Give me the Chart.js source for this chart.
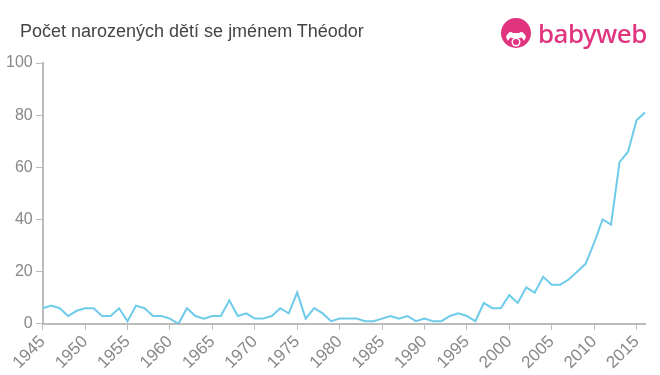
<!DOCTYPE html>
<html><head><meta charset="utf-8">
<script src="https://cdn.jsdelivr.net/npm/chart.js@4"></script>
<style>
html,body{margin:0;padding:0;background:#fff;}
#wrap{position:relative;width:660px;height:375px;}
#title{position:absolute;left:20px;top:21px;font:18px "Liberation Sans",Arial,sans-serif;color:#444;white-space:nowrap;}
#logo{position:absolute;left:500px;top:15px;height:36px;display:flex;align-items:center;}
#logo .txt{font:500 26px "Noto Sans","DejaVu Sans",sans-serif;color:#e0347f;margin-left:6px;letter-spacing:-0.5px;}
canvas{position:absolute;left:0;top:0;}
</style></head>
<body><div id="wrap">
<canvas id="c" width="660" height="375"></canvas>
<div id="title">Počet narozených dětí se jménem Théodor</div>
<div id="logo">
<svg width="32" height="32" viewBox="0 0 32 32">
<circle cx="16" cy="16" r="15" fill="#e0347f"/>
<path d="M6 20 Q9 13 13 16 L19 16 Q23 13 26 20 L24 24 Q22 19 20 21 L12 21 Q10 19 8 24 Z" fill="#fff"/>
<circle cx="16" cy="25" r="4.5" fill="#fff"/>
<circle cx="16" cy="25" r="3" fill="#e0347f"/>
</svg>
<span class="txt">babyweb</span>
</div>
</div>
<script>
const years = [];
for (let y = 1945; y <= 2016; y++) years.push(y);
const counts = [
 6,7,6,3,5,6,6,3,3,6, 1,7,6,3,3,2,0,6,3,2, 3,3,9,3,4,2,2,3,6,4,
 12,2,6,4,1,2,2,2,1,1, 2,3,2,3,1,2,1,1,3,4, 3,1,8,6,6,11,8,14,12,18,
 15,15,17,20,23,31,40,38,62,66, 78,81
];
const yTicks = [0,20,40,60,80,100];

new Chart(document.getElementById('c'), {
  type: 'line',
  data: { labels: years, datasets: [{
    data: counts, borderColor: '#6ecbea', borderWidth: 2,
    pointRadius: 0, fill: false, tension: 0
  }]},
  options: {
    responsive: false, animation: false,
    layout: { padding: { left: 3, right: 15, top: 63, bottom: 0 } },
    plugins: { legend: { display: false }, tooltip: { enabled: false } },
    scales: {
      x: {
        offset: false,
        grid: { drawOnChartArea: false, color: '#bbb', tickLength: 6, lineWidth: 1 },
        border: { color: '#bbb', width: 2 },
        ticks: {
          autoSkip: false, maxRotation: 45, minRotation: 45,
          color: '#888', font: { size: 17, family: '"Liberation Sans", Arial, sans-serif' },
          padding: 2,
          callback: function(v, i) { const yr = years[i]; return yr % 5 === 0 ? String(yr) : null; }
        }
      },
      y: {
        min: 0, max: 100,
        afterBuildTicks: function(s) { s.ticks = yTicks.map(v => ({ value: v })); },
        grid: { drawOnChartArea: false, color: '#bbb', tickLength: 7 },
        border: { color: '#bbb', width: 2 },
        ticks: { color: '#888', font: { size: 16, family: '"Liberation Sans", Arial, sans-serif' }, padding: 3 }
      }
    }
  }
});
</script>
</body></html>
